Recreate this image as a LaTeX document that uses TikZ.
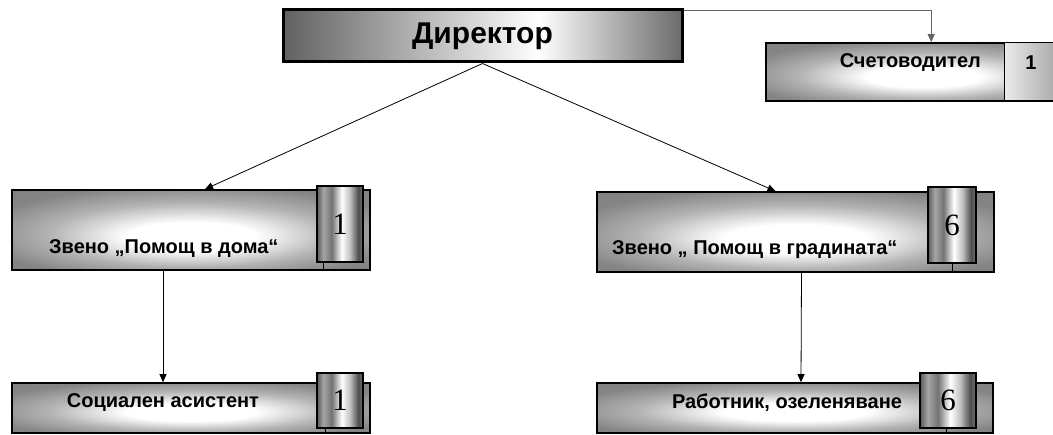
\documentclass[tikz,border=0pt]{standalone}
\usepackage{fontspec}
\setmainfont{Liberation Serif}
\setsansfont{Liberation Sans}
\usetikzlibrary{arrows.meta, positioning, calc}

% shadings for boxes and number tabs
\pgfdeclareradialshading{boxshade}{\pgfpoint{0bp}{-5bp}}{color(0bp)=(white); color(9bp)=(white); color(20bp)=(black!30); color(30bp)=(black!48); color(50bp)=(black!52)}
\pgfdeclarehorizontalshading{tabshade}{100bp}{color(0bp)=(black!65); color(25bp)=(black!65); color(32bp)=(black!35); color(41bp)=(black!55); color(52bp)=(white); color(61bp)=(black!25); color(70bp)=(black!70); color(75bp)=(black!55); color(100bp)=(black!55)}
\pgfdeclarehorizontalshading{dirshade}{100bp}{color(0bp)=(black!62); color(25bp)=(black!62); color(57bp)=(white); color(75bp)=(black!58); color(100bp)=(black!58)}

\tikzset{
  unitbox/.style={draw=black, line width=1.6pt, shading=boxshade, inner sep=0pt},
  numtab/.style={draw=black, line width=1.4pt, shading=tabshade, inner sep=0pt, font=\fontsize{31}{32}\selectfont},
  boxtext/.style={font=\sffamily\bfseries\fontsize{20}{22}\selectfont, inner sep=0pt},
  conn/.style={line width=0.8pt, -{Triangle[length=8pt, width=7pt]}}
}

\begin{document}
\begin{tikzpicture}[x=1pt, y=-1pt]
  \useasboundingbox (0,0) rectangle (1053,435);

  % Top row
  \node[draw=black, line width=3pt, shading=dirshade, minimum width=399pt, minimum height=52pt, inner sep=0pt,
        font=\sffamily\bfseries\fontsize{30}{32}\selectfont] (dir) at (482.5,36) {Директор};
  \node[unitbox, minimum width=314pt, minimum height=58pt] (acc) at (923,72) {};
  \node[draw=black, line width=1pt, left color=white!92!black, right color=black!45, minimum width=76pt, minimum height=58pt,
        inner sep=0pt] (accnum) at (1042,72) {};
  \node[boxtext, anchor=east] (acctxt) at (981,63) {Счетоводител};
  \node[boxtext] (accnumtxt) at (1031,63) {1};

  % Middle row
  \node[unitbox, minimum width=358pt, minimum height=80pt] (home) at (191,230) {};
  \node[numtab, minimum width=46pt, minimum height=76pt] (hometab) at (340,224) {1};
  \node[boxtext, anchor=west] (hometxt) at (49,249) {Звено „Помощ в дома“};
  \node[unitbox, minimum width=397pt, minimum height=80pt] (garden) at (795.5,232) {};
  \node[numtab, minimum width=48pt, minimum height=76pt] (gardentab) at (952,225) {6};
  \node[boxtext, anchor=west] (gardentxt) at (612,250) {Звено „ Помощ в градината“};

  % Bottom row
  \node[unitbox, minimum width=358pt, minimum height=50pt] (social) at (191,408) {};
  \node[numtab, minimum width=46pt, minimum height=55pt] (socialtab) at (340,400.5) {1};
  \node[boxtext] (socialtxt) at (163,403) {Социален асистент};
  \node[unitbox, minimum width=396pt, minimum height=50pt] (worker) at (795,408) {};
  \node[numtab, minimum width=56pt, minimum height=55pt] (workertab) at (948,400.5) {6};
  \node[boxtext] (workertxt) at (787,403) {Работник, озеленяване};

  % small stubs under the tabs
  \draw[line width=0.8pt] ([xshift=-17pt]hometab.south) -- ([xshift=-17pt]hometab.south |- home.south);
  \draw[line width=0.8pt] (gardentab.south) -- (gardentab.south |- garden.south);
  \draw[line width=0.8pt] ([xshift=-15pt]socialtab.south) -- ([xshift=-15pt]socialtab.south |- social.south);
  \draw[line width=0.8pt] ([xshift=-2pt]workertab.south) -- ([xshift=-2pt]workertab.south |- worker.south);

  % Connectors
  \draw[conn, draw=black!60] ([yshift=-2pt]dir.north east) -| ([xshift=166pt]acc.north west);
  \draw[conn] (dir.south) -- ([xshift=14pt]home.north);
  \draw[conn] (dir.south) -- ([xshift=-20pt]garden.north);
  \draw[conn] ([xshift=-28pt]home.south) -- ([xshift=-28pt]social.north);
  \draw[conn] ([xshift=6pt]garden.south) -- ([xshift=6pt]worker.north);
\end{tikzpicture}
\end{document}
